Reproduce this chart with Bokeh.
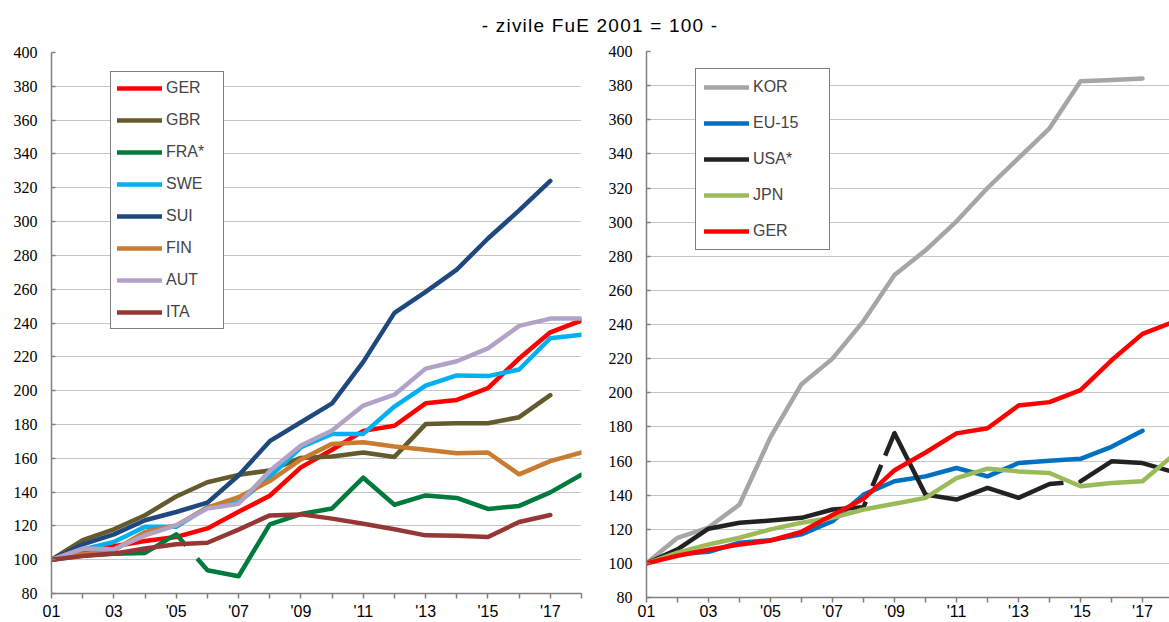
from bokeh.plotting import figure
from bokeh.models import Legend, LegendItem, FixedTicker, Div, Range1d
from bokeh.layouts import row, column
from bokeh.embed import file_html
from bokeh.resources import INLINE

# ---------------- data ----------------
years = list(range(2001, 2019))
x_tick_labels = ["01", "", "03", "", "'05", "", "'07", "", "'09", "",
                 "'11", "", "'13", "", "'15", "", "'17", ""]
y_ticks = list(range(80, 401, 20))
title_text = "- zivile FuE 2001 = 100 -"

ger = [100, 104.5, 108, 111, 113.4, 118.5, 128.3, 137.8, 154.6, 165, 176.2, 179.2,
       192.5, 194.5, 201.5, 219, 234.5, 241.5]
gbr = [100, 111.5, 118, 126.3, 137.4, 145.8, 150.2, 152.8, 160.2, 161, 163.4, 160.8,
       180.2, 180.7, 180.7, 184.3, 197.3, None]
fra = [100, 102.5, 103.5, 104, 115, 93.8, 90.2, 120.9, 127, 130.3, 148.5, 132.5,
       138, 136.5, 130, 131.8, 139.8, 150.2]
swe = [100, 106, 110.5, 119.5, 119.5, 131, 134, 149, 166.5, 174.4, 174.4, 190.6,
       203, 209, 208.6, 212.5, 231, 233]
sui = [100, 109, 115, 123.3, 128.2, 133.7, 149.8, 170.1, 181.3, 192.5, 217, 246,
       258.4, 271.6, 290, 306.6, 324, None]
fin = [100, 103.2, 105.6, 116.4, 120.3, 130.8, 137, 146.5, 159.3, 168.5, 169.5, 167,
       165, 163, 163.4, 150.5, 158.3, 163.4]
aut = [100, 106.6, 106.2, 114.4, 120.3, 130.2, 133.1, 152.4, 167.5, 176.4, 191.2, 197.6,
       213, 217.4, 225, 238.3, 242.6, 242.6]
ita = [100, 102.2, 103.6, 106.6, 109.1, 110, 117.8, 126.2, 126.8, 124.3, 121.3, 118,
       114.4, 114.2, 113.4, 122.3, 126.4, None]

kor = [100, 115, 121, 134.5, 174, 205, 220, 242, 269, 283.5, 300.5, 320, 337.5, 355,
       382.5, 383.3, 384.2, None]
eu15 = [100, 105.3, 106.8, 112.1, 113.5, 117, 124.7, 140.3, 148.1, 151, 155.9, 151,
        158.8, 160.2, 161.3, 168.3, 177.7, None]
usa = [100, 108.2, 120.3, 123.8, 125.1, 126.7, 131.6, 132.9, 176.3, 140.3, 137.4, 144.2,
       138.4, 146.5, 148.1, 159.8, 158.8, 153.5]
jpn = [100, 106.3, 111.1, 115, 119.9, 123.8, 126.7, 131.6, 134.9, 138.4, 150, 155.5,
       153.9, 153, 145.2, 147.1, 148.1, 163.5]

# series breaks (break between the listed year and the next one)
fra_breaks = [2005]
usa_breaks = [2008, 2014]

left_series = [
    ("GER", ger, "#FF0000", [], []),
    ("GBR", gbr, "#635A2E", [], []),
    ("FRA*", fra, "#007A3D", fra_breaks, ["15 17"]),
    ("SWE", swe, "#00B0F0", [], []),
    ("SUI", sui, "#1F497D", [], []),
    ("FIN", fin, "#C97B30", [], []),
    ("AUT", aut, "#B3A2C7", [], []),
    ("ITA", ita, "#953735", [], []),
]
right_series = [
    ("KOR", kor, "#A6A6A6", [], []),
    ("EU-15", eu15, "#0070C0", [], []),
    ("USA*", usa, "#222222", usa_breaks, ["6 17 23 10 30", "14 17"]),
    ("JPN", jpn, "#9BBB59", [], []),
    ("GER", ger, "#FF0000", [], []),
]

# ---------------- layout constants ----------------
DIV_H = 42
FIG_H = 622 - DIV_H
LW = 4.5


def pieces(vals, breaks):
    pts = [(y, v) for y, v in zip(years, vals) if v is not None]
    solid = [[]]
    dashed = []
    for i, (y, v) in enumerate(pts):
        solid[-1].append((y, v))
        if y in breaks and i + 1 < len(pts):
            dashed.append([(y, v), pts[i + 1]])
            solid.append([])
    return [s for s in solid if s], dashed


def make_fig(width, bl, br, top, bottom, x_end, standoff):
    p = figure(width=width, height=FIG_H, x_range=Range1d(2001, x_end),
               y_range=Range1d(80, 400), output_backend="svg", toolbar_location=None,
               min_border_left=bl, min_border_right=br, min_border_top=top,
               min_border_bottom=bottom)
    p.outline_line_color = None
    p.background_fill_color = "white"
    p.border_fill_color = "white"
    p.xgrid.visible = False
    p.ygrid.grid_line_color = "#8c8c8c"
    p.ygrid.grid_line_dash = "1 1"
    p.ygrid.grid_line_width = 1
    p.yaxis.ticker = FixedTicker(ticks=y_ticks)
    p.xaxis.ticker = FixedTicker(ticks=years)
    p.xaxis.major_label_overrides = {y: l for y, l in zip(years, x_tick_labels)}
    for ax in (p.xaxis[0], p.yaxis[0]):
        ax.axis_line_color = "#808080"
        ax.axis_line_width = 1.5
        ax.major_tick_line_color = "#808080"
        ax.major_tick_line_width = 1.5
        ax.minor_tick_line_color = None
    p.xaxis.major_tick_in = 0
    p.xaxis.major_tick_out = 5
    p.xaxis.major_label_standoff = standoff
    p.xaxis.major_label_text_font = "Liberation Sans"
    p.xaxis.major_label_text_font_size = "16px"
    p.xaxis.major_label_text_line_height = 1.0
    p.xaxis.major_label_text_color = "black"
    p.yaxis.major_tick_in = 4
    p.yaxis.major_tick_out = 0
    p.yaxis.major_label_standoff = 14
    p.yaxis.major_label_text_font = "Liberation Serif"
    p.yaxis.major_label_text_font_size = "16px"
    p.yaxis.major_label_text_color = "black"
    return p


def draw(p, series):
    items = []
    for name, vals, color, breaks, dashes in series:
        solid, dashed = pieces(vals, breaks)
        first = None
        for seg in solid:
            r = p.line([a for a, _ in seg], [b for _, b in seg], line_color=color,
                       line_width=LW, line_join="round", line_cap="round")
            if first is None:
                first = r
        for seg, dash in zip(dashed, dashes):
            p.line([a for a, _ in seg], [b for _, b in seg], line_color=color,
                   line_width=LW, line_dash=dash, line_cap="butt")
        items.append(LegendItem(label=name, renderers=[first]))
    return items


# left panel: frame 51..581 x 52..593
p1 = make_fig(600, 51, 19, 10, 29, 2018, 4)
items1 = draw(p1, left_series)
leg1 = Legend(items=items1, location=(59, 264), padding=6, spacing=12, glyph_width=45,
              glyph_height=20, label_standoff=4, label_width=51,
              label_text_font="Liberation Sans", label_text_font_size="16px",
              border_line_color="black", border_line_width=1, background_fill_alpha=1,
              margin=0)
p1.add_layout(leg1)

# right panel: frame 646..1169 x 51..597
p2 = make_fig(569, 46, 0, 9, 25, 2017.87, 0)
items2 = draw(p2, right_series)
leg2 = Legend(items=items2, location=(49, 347), padding=8, spacing=16, glyph_width=45,
              glyph_height=20, label_standoff=4, label_width=68,
              label_text_font="Liberation Sans", label_text_font_size="16px",
              border_line_color="black", border_line_width=1, background_fill_alpha=1,
              margin=0)
p2.add_layout(leg2)

title = Div(
    text=('<div style="width:1169px;height:%dpx;padding-top:16px;line-height:20px;'
          'text-align:center;padding-left:31px;box-sizing:border-box;'
          'font-family:\'Liberation Sans\',Arial;font-size:19px;letter-spacing:1.2px;'
          'color:#000;white-space:nowrap">%s</div>') % (DIV_H, title_text),
    width=1169, height=DIV_H, margin=0)

layout = column(title, row(column(p1, spacing=0), column(p2, spacing=0), spacing=0),
                spacing=0)
open("out.html", "w").write(file_html(layout, INLINE))
